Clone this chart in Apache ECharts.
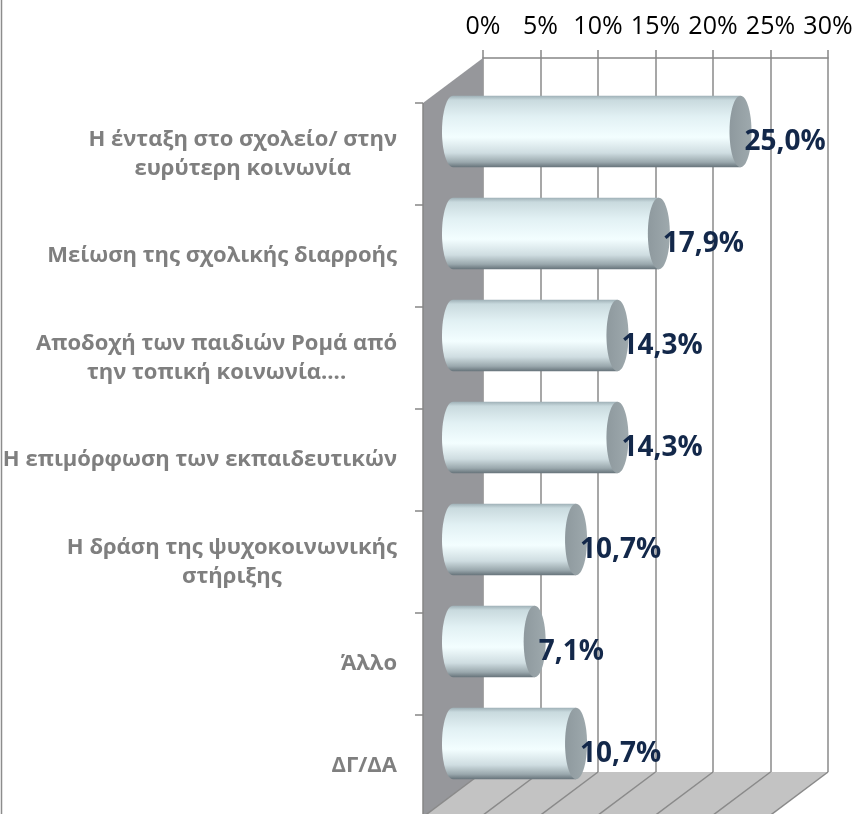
<!DOCTYPE html>
<html>
<head>
<meta charset="utf-8">
<script src="https://cdn.jsdelivr.net/npm/echarts@6/dist/echarts.min.js"></script>
<style>
  html, body { margin: 0; padding: 0; background: #ffffff; }
  #chart { width: 856px; height: 814px; }
</style>
</head>
<body>
<div id="chart"></div>
<script>
// Answers (categories) and their shares in percent
const categories = [
  'Η ένταξη στο σχολείο/ στην\nευρύτερη κοινωνία',
  'Μείωση της σχολικής διαρροής',
  'Αποδοχή των παιδιών Ρομά από\nτην τοπική κοινωνία....',
  'Η επιμόρφωση των εκπαιδευτικών',
  'Η δράση της ψυχοκοινωνικής\nστήριξης',
  'Άλλο',
  'ΔΓ/ΔΑ'
];
const values = [25.0, 17.9, 14.3, 14.3, 10.7, 7.1, 10.7];
const axisTicks = [0, 5, 10, 15, 20, 25, 30];

// 3D look: depth offset of the front plane relative to the back wall (pixels)
const DX = -60, DY = 45;
const CAP_RX = 11;
const BAR_RATIO = 0.7;
const LABEL_FONT = 'bold 22px "Open Sans"';
const VALUE_FONT = 'bold 28px "Open Sans"';

const fmtValue = v => v.toFixed(1).replace('.', ',') + '%';

// text measuring for centred multi-line category labels
const measureCtx = document.createElement('canvas').getContext('2d');
function textWidth(str, font) {
  measureCtx.font = font;
  return measureCtx.measureText(str).width;
}

const chart = echarts.init(document.getElementById('chart'), null, { renderer: 'canvas' });

const xMin = axisTicks[0], xMax = axisTicks[axisTicks.length - 1];
const barData = values.map((v, i) => [i, v]);
const catData = categories.map((c, i) => [i]);

// walls, floor, front edge and category ticks
function renderFrame(params, api) {
  const nCat = categories.length;
  const band = api.size([0, 1])[1];
  const tl = api.coord([xMin, 0]); tl[1] -= band / 2;
  const br = api.coord([xMax, nCat - 1]); br[1] += band / 2;
  const left = tl[0], top = tl[1], right = br[0], bottom = br[1];
  const children = [];
  // left side wall
  children.push({
    type: 'polygon',
    shape: { points: [[left, top], [left, bottom], [left + DX, bottom + DY], [left + DX, top + DY]] },
    style: { fill: '#96979b' }
  });
  // floor
  children.push({
    type: 'polygon',
    shape: { points: [[left, bottom], [right, bottom], [right + DX, bottom + DY], [left + DX, bottom + DY]] },
    style: { fill: '#c3c3c3' }
  });
  // floor grid lines
  axisTicks.forEach(t => {
    const p = api.coord([t, nCat - 1]);
    children.push({
      type: 'line',
      shape: { x1: p[0], y1: bottom, x2: p[0] + DX, y2: bottom + DY },
      style: { stroke: '#8a8a8a', lineWidth: 1.5 }
    });
  });
  // front left edge
  children.push({
    type: 'line',
    shape: { x1: left + DX, y1: top + DY, x2: left + DX, y2: bottom + DY },
    style: { stroke: '#868686', lineWidth: 1.5 }
  });
  // category boundary ticks on the front edge
  for (let k = 0; k <= nCat; k++) {
    const y = top + DY + k * band;
    children.push({
      type: 'line',
      shape: { x1: left + DX - 8, y1: y, x2: left + DX, y2: y },
      style: { stroke: '#868686', lineWidth: 1.5 }
    });
  }
  return { type: 'group', silent: true, children };
}

// cylinders with value labels
function renderCylinder(params, api) {
  const i = api.value(0), v = api.value(1);
  const p0 = api.coord([xMin, i]);
  const p1 = api.coord([v, i]);
  const band = api.size([0, 1])[1];
  const ry = band * BAR_RATIO / 2, rx = CAP_RX;
  const cx0 = p0[0] + DX / 2, cx1 = p1[0] + DX / 2, cy = p0[1] + DY / 2;
  const k = 0.5523;
  const body =
    'M' + cx1 + ' ' + (cy - ry) +
    ' L' + cx0 + ' ' + (cy - ry) +
    ' C' + (cx0 - rx * k) + ' ' + (cy - ry) + ' ' + (cx0 - rx) + ' ' + (cy - ry * k) + ' ' + (cx0 - rx) + ' ' + cy +
    ' C' + (cx0 - rx) + ' ' + (cy + ry * k) + ' ' + (cx0 - rx * k) + ' ' + (cy + ry) + ' ' + cx0 + ' ' + (cy + ry) +
    ' L' + cx1 + ' ' + (cy + ry) + ' Z';
  return {
    type: 'group',
    children: [
      {
        type: 'path',
        shape: { pathData: body },
        style: {
          fill: new echarts.graphic.LinearGradient(0, 0, 0, 1, [
            { offset: 0, color: '#9fb1b7' },
            { offset: 0.06, color: '#c9dade' },
            { offset: 0.3, color: '#e2f1f4' },
            { offset: 0.58, color: '#f3feff' },
            { offset: 0.8, color: '#cfdde1' },
            { offset: 0.93, color: '#9aa8ad' },
            { offset: 1, color: '#66737a' }
          ])
        }
      },
      {
        type: 'ellipse',
        shape: { cx: cx1, cy: cy, rx: rx, ry: ry },
        style: {
          fill: new echarts.graphic.LinearGradient(0, 0, 1, 0, [
            { offset: 0, color: '#8e999e' },
            { offset: 1, color: '#9ea9ad' }
          ])
        }
      },
      {
        type: 'text',
        x: cx1 + 4,
        y: cy + 11,
        style: {
          text: fmtValue(v),
          font: VALUE_FONT,
          fill: '#13284a',
          align: 'left',
          verticalAlign: 'middle'
        }
      }
    ]
  };
}

// category labels on the front plane: block right-aligned, lines centred
function renderCategoryLabel(params, api) {
  const i = api.value(0);
  const p = api.coord([xMin, i]);
  const text = categories[i];
  const lines = text.split('\n');
  const w = Math.max.apply(null, lines.map(l => textWidth(l, LABEL_FONT)));
  const rightEdge = p[0] + DX - 26;
  return {
    type: 'text',
    x: rightEdge - w / 2,
    y: p[1] + DY,
    silent: true,
    style: {
      text: text,
      font: LABEL_FONT,
      fill: '#7f7f7f',
      align: 'center',
      verticalAlign: 'middle',
      lineHeight: 29
    }
  };
}

chart.setOption({
  animation: false,
  backgroundColor: '#ffffff',
  grid: { left: 483, top: 58, width: 345, height: 714 },
  xAxis: {
    type: 'value',
    position: 'top',
    min: xMin,
    max: xMax,
    interval: 5,
    axisLine: { show: true, lineStyle: { color: '#868686', width: 1.5 } },
    axisTick: { show: true, inside: false, length: 8, lineStyle: { color: '#868686', width: 1.5 } },
    axisLabel: {
      formatter: '{value}%',
      margin: 19,
      color: '#000000',
      fontFamily: 'Open Sans',
      fontSize: 25
    },
    splitLine: { show: true, lineStyle: { color: '#8a8a8a', width: 1.5 } }
  },
  yAxis: {
    type: 'category',
    inverse: true,
    data: categories,
    axisLine: { show: false },
    axisTick: { show: false },
    axisLabel: { show: false },
    splitLine: { show: false }
  },
  graphic: [
    {
      type: 'line',
      shape: { x1: 1.5, y1: 0, x2: 1.5, y2: 814 },
      style: { stroke: '#8c8c8c', lineWidth: 1.5 },
      silent: true
    }
  ],
  series: [
    {
      type: 'custom',
      renderItem: renderFrame,
      data: [[0]],
      z: 1,
      clip: false
    },
    {
      type: 'custom',
      renderItem: renderCylinder,
      encode: { x: 1, y: 0 },
      data: barData,
      z: 3,
      clip: false
    },
    {
      type: 'custom',
      renderItem: renderCategoryLabel,
      data: catData,
      z: 3,
      clip: false
    }
  ]
});
</script>
</body>
</html>
